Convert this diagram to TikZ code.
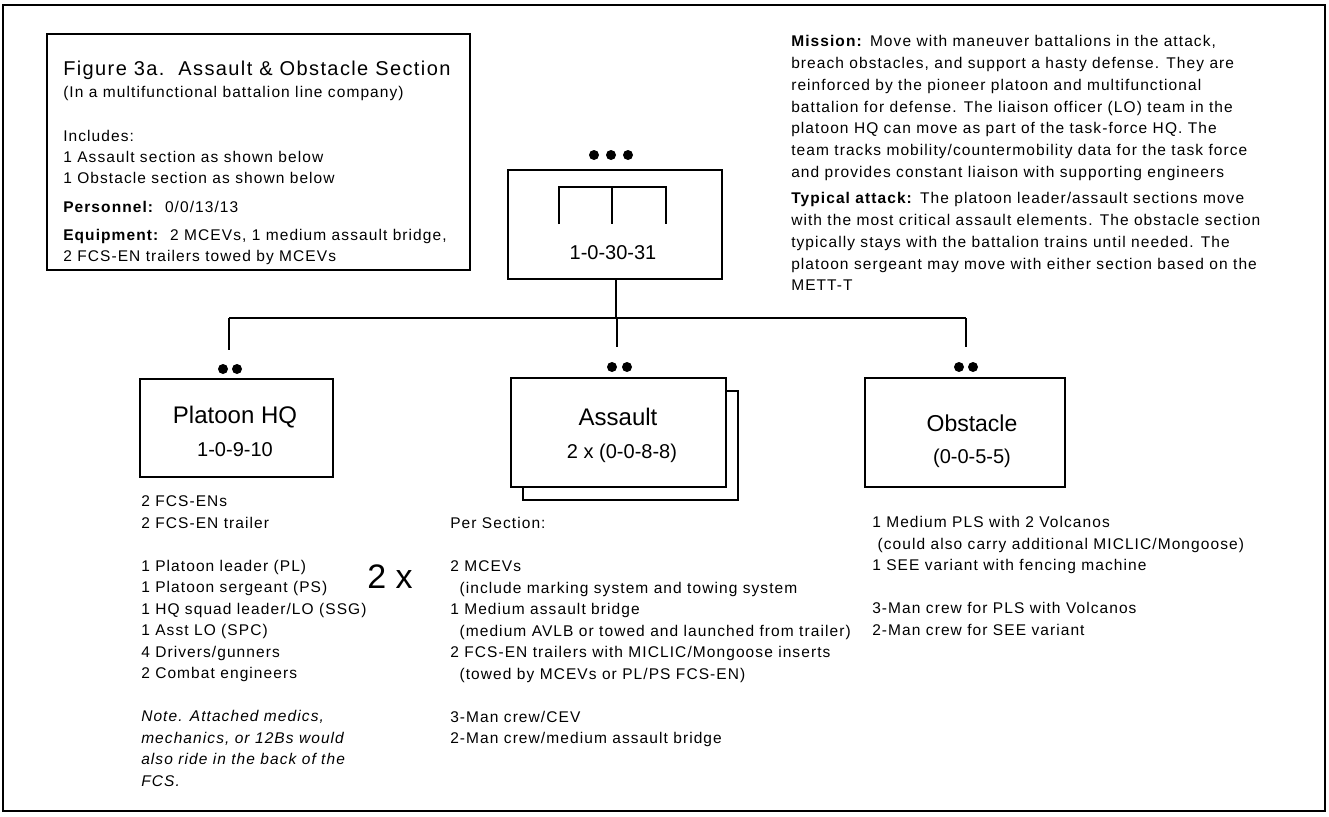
\documentclass[tikz,border=0pt]{standalone}
\usepackage{fontspec}
\setmainfont{Liberation Sans}[LetterSpace=7]
\newfontfamily\plainf{Liberation Sans}
\newcommand\bodyf{\fontsize{11.625pt}{16.125pt}\selectfont}
\newcommand\misf{\fontsize{11.625pt}{16.35pt}\selectfont}
\newcommand\incf{\fontsize{11.625pt}{15.75pt}\selectfont}
\newcommand\firstln{\rule{0pt}{12pt}}
\begin{document}
\begin{tikzpicture}[x=0.75pt,y=-0.75pt,
  box/.style={draw,line width=1.1pt,inner sep=0pt,fill=white},
  dot/.style={circle,fill=black,inner sep=0pt,minimum size=7.5pt},
  para/.style={inner sep=0pt,align=left,anchor=north west,font=\bodyf},
  oneline/.style={inner sep=0pt,anchor=base west,font=\bodyf},
  lbl/.style={inner sep=0pt,font=\plainf\fontsize{18pt}{20pt}\selectfont},
  num/.style={inner sep=0pt,font=\plainf\fontsize{15pt}{17pt}\selectfont},
  conn/.style={line width=0.9pt}]
\useasboundingbox (0,0) rectangle (1329,817);
\draw[line width=1.1pt] (3,5) rectangle (1325,811);

% info box
\node[box,minimum width=317.25pt,minimum height=177pt] (info) at (258.5,152) {};
\node[oneline,font=\fontsize{15pt}{18pt}\selectfont] (title) at (63,76) {Figure 3a.\ \ Assault \& Obstacle Section};
\node[oneline] (sub) at (63,97.5) {(In a multifunctional battalion line company)};
\node[para,font=\incf] (incl) at (63,125.5) {\firstln Includes:\\1 Assault section as shown below\\1 Obstacle section as shown below};
\node[oneline] (pers) at (63,212) {\textbf{Personnel:}\ \ 0/0/13/13};
\node[para,font=\incf] (equip) at (63,224.5) {\firstln\textbf{Equipment:}\ \ 2 MCEVs, 1 medium assault bridge,\\2 FCS-EN trailers towed by MCEVs};

% mission text
\node[para,font=\misf] (mission) at (791,30.5) {\firstln\textbf{Mission:} Move with maneuver battalions in the attack,\\
breach obstacles, and support a hasty defense. They are\\
reinforced by the pioneer platoon and multifunctional\\
battalion for defense. The liaison officer (LO) team in the\\
platoon HQ can move as part of the task-force HQ. The\\
team tracks mobility/countermobility data for the task force\\
and provides constant liaison with supporting engineers};
\node[para,font=\misf] (typical) at (791,187.5) {\firstln\textbf{Typical attack:} The platoon leader/assault sections move\\
with the most critical assault elements. The obstacle section\\
typically stays with the battalion trains until needed. The\\
platoon sergeant may move with either section based on the\\
METT-T};

% top node
\node[dot] (t1) at (594,155) {};
\node[dot] (t2) at (611,155) {};
\node[dot] (t3) at (628,155) {};
\node[box,minimum width=160.5pt,minimum height=81.75pt] (top) at (615,224.5) {};
\draw[line width=1.4pt] (559,224) |- (666,187) -- (666,224);
\draw[line width=1.4pt] (612,187) -- (612,224);
\node[num] (topnum) at (613,253) {1-0-30-31};

% bus
\coordinate (busL) at (229,318);
\coordinate (busR) at (966,318);
\coordinate (busM) at (616,318);
\coordinate (endP) at (229,350);
\coordinate (endA) at (617,347);
\coordinate (endO) at (966,347);
\draw[conn] (top.south) ++(1,0) -- (busM);
\draw[conn] (busL) -- (busR);
\draw[conn] (busL) -- (endP);
\draw[conn] (617,318) -- (endA);
\draw[conn] (busR) -- (endO);

% platoon HQ
\node[dot] (p1) at (223,369) {};
\node[dot] (p2) at (237,369) {};
\node[box,minimum width=144.75pt,minimum height=73.5pt] (phq) at (236.5,428) {};
\node[lbl] (phqt) at (235,417) {Platoon HQ};
\node[num] (phqn) at (235,450) {1-0-9-10};

% assault
\node[dot] (a1) at (612,367) {};
\node[dot] (a2) at (627,367) {};
\node[box,minimum width=161.25pt,minimum height=81.75pt] (aslb) at (630.5,445.5) {};
\node[box,minimum width=161.25pt,minimum height=81.75pt] (asl) at (618.5,432.5) {};
\node[lbl] (aslt) at (618,417) {Assault};
\node[num] (asln) at (622,453) {2 x (0-0-8-8)};

% obstacle
\node[dot] (o1) at (959,367) {};
\node[dot] (o2) at (973,367) {};
\node[box,minimum width=150pt,minimum height=81.75pt] (obs) at (965,432.5) {};
\node[lbl,font=\plainf\fontsize{17.25pt}{20pt}\selectfont] (obst) at (972,423) {Obstacle};
\node[num] (obsn) at (972,458) {(0-0-5-5)};

% columns
\node[para] (pcol) at (141,490.5) {\firstln 2 FCS-ENs\\
2 FCS-EN trailer\\
\mbox{}\\
1 Platoon leader (PL)\\
1 Platoon sergeant (PS)\\
1 HQ squad leader/LO (SSG)\\
1 Asst LO (SPC)\\
4 Drivers/gunners\\
2 Combat engineers\\
\mbox{}\\
\textit{Note. Attached medics,}\\
\textit{mechanics, or 12Bs would}\\
\textit{also ride in the back of the}\\
\textit{FCS.}};
\node[inner sep=0pt,font=\plainf\fontsize{25.5pt}{28pt}\selectfont] (twox) at (390,577) {2 x};

\node[para] (acol) at (450,512.5) {\firstln Per Section:\\
\mbox{}\\
2 MCEVs\\
\hspace*{7pt}(include marking system and towing system\\
1 Medium assault bridge\\
\hspace*{7pt}(medium AVLB or towed and launched from trailer)\\
2 FCS-EN trailers with MICLIC/Mongoose inserts\\
\hspace*{7pt}(towed by MCEVs or PL/PS FCS-EN)\\
\mbox{}\\
3-Man crew/CEV\\
2-Man crew/medium assault bridge};

\node[para] (ocol) at (872,511.5) {\firstln 1 Medium PLS with 2 Volcanos\\
\hspace*{4pt}(could also carry additional MICLIC/Mongoose)\\
1 SEE variant with fencing machine\\
\mbox{}\\
3-Man crew for PLS with Volcanos\\
2-Man crew for SEE variant};
\end{tikzpicture}
\end{document}
